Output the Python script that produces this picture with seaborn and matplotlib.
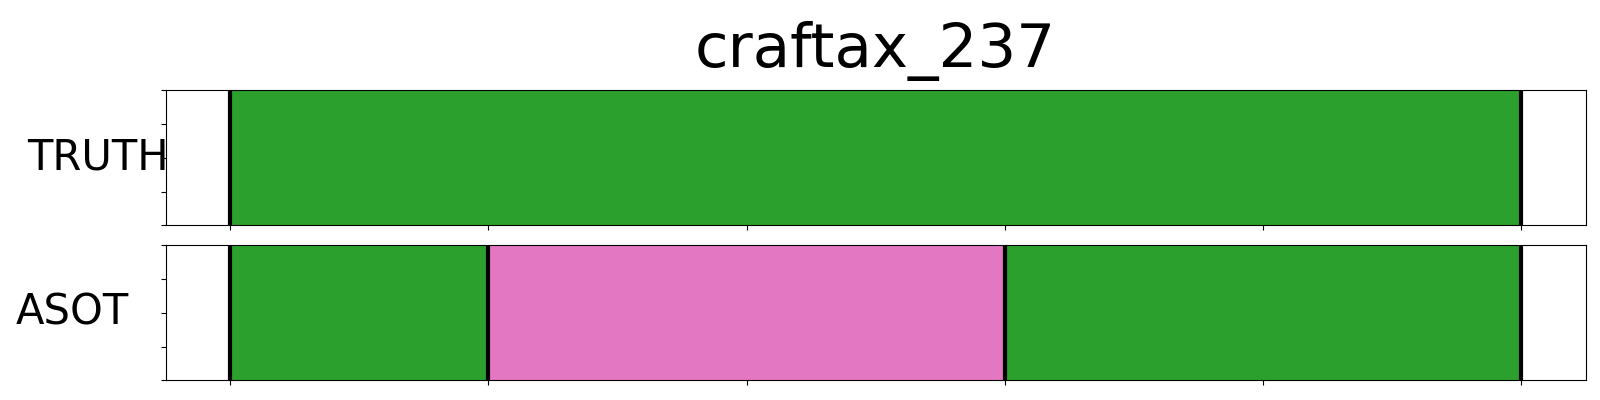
import matplotlib
matplotlib.use("Agg")
import matplotlib.pyplot as plt
import seaborn as sns

# segment data: (start, end, class) per row
TITLE = "craftax_237"
N_FRAMES = 100
ROW_NAMES = ["TRUTH", "ASOT"]
TRUTH_STARTS = [0]
TRUTH_ENDS = [100]
TRUTH_CLASSES = [2]
ASOT_STARTS = [0, 20, 60]
ASOT_ENDS = [20, 60, 100]
ASOT_CLASSES = [2, 6, 2]

palette = sns.color_palette("tab10")

rows = [
    (TRUTH_STARTS, TRUTH_ENDS, TRUTH_CLASSES),
    (ASOT_STARTS, ASOT_ENDS, ASOT_CLASSES),
]

fig, axes = plt.subplots(2, 1, figsize=(16, 4), dpi=100, sharex=True)
fig.subplots_adjust(left=0.1036, right=0.991, top=0.774, bottom=0.049, hspace=0.148)

label_x = [-0.048, -0.066]

for ax, name, (starts, ends, classes), lx in zip(axes, ROW_NAMES, rows, label_x):
    widths = [e - s for s, e in zip(starts, ends)]
    colors = [palette[c] for c in classes]
    ax.barh(y=0.5, width=widths, left=starts, height=1.0, color=colors, edgecolor="none")
    bounds = sorted(set(starts) | set(ends))
    for b in bounds:
        ax.axvline(b, color="black", lw=3)
    ax.set_ylim(0, 1)
    ax.set_xlim(-0.05 * N_FRAMES, 1.05 * N_FRAMES)
    ax.set_yticks([0, 0.25, 0.5, 0.75, 1.0])
    ax.set_yticklabels([])
    ax.tick_params(labelbottom=False)
    ax.set_ylabel(name, rotation=0, fontsize=30, ha="center", va="center")
    ax.yaxis.set_label_coords(lx, 0.5)

axes[0].set_title(TITLE, fontsize=44, pad=17)

plt.savefig("out.png")
plt.close()
